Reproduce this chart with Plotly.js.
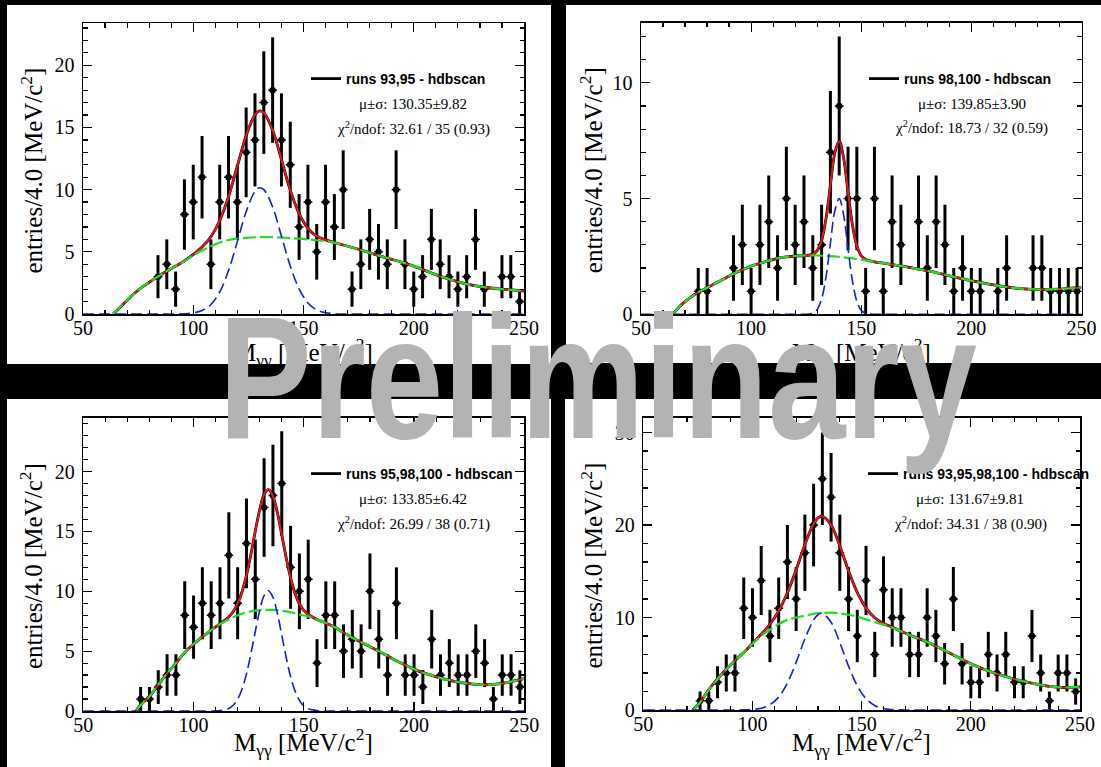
<!DOCTYPE html>
<html>
<head>
<meta charset="utf-8">
<script src="https://cdn.plot.ly/plotly-3.0.1.min.js"></script>
<style>
  html, body { margin: 0; padding: 0; background: #000; }
  #chart { width: 1101px; height: 767px; }
</style>
</head>
<body>
<div id="chart"></div>
<script>
// ---------------- data ----------------
// bin centres (bin width 4.0 MeV/c^2)
const binCenters = [52,56,60,64,68,72,76,80,84,88,92,96,100,104,108,112,116,120,124,128,132,136,140,144,148,152,156,160,164,168,172,176,180,184,188,192,196,200,204,208,212,216,220,224,228,232,236,240,244,248];

// entries per bin
const countsRuns93_95 = [0,0,0,0,0,0,0,0,3,4,2,8,9,11,4,9,11,9,13,14,17,18,14,12,7,9,5,9,7,10,2,4,6,5,4,10,4,2,3,6,4,3,2,3,6,2,0,3,3,1];
const countsRuns98_100 = [0,0,0,0,0,0,1,1,0,0,2,3,1,3,4,2,5,3,4,2,3,7,9,5,5,1,5,1,4,3,0,4,2,4,3,1,2,1,1,0,1,2,0,0,2,2,1,1,1,1];
const countsRuns95_98_100 = [0,0,0,0,0,0,1,1,2,3,3,8,7,9,8,9,13,9,14,11,17,18,19,12,10,11,4,8,8,5,6,5,10,6,3,9,3,3,2,6,3,4,3,3,5,4,1,3,3,2];
const countsRuns93_95_98_100 = [0,0,0,0,0,0,1,1,3,4,4,11,10,14,8,11,16,12,17,20,25,23,17,12,8,14,6,13,10,10,6,6,10,8,5,12,5,3,3,6,4,6,3,3,8,4,1,4,4,2];

// fitted curves, read at sample points: background (green) and signal (blue)
const fitX_93_95 = [50,63.7,68,72,76,80,84,88,92,96,100,104,108,112,116,120,124,128,130,132,136,140,144,148,152,156,160,164,168,176,184,192,200,208,216,224,232,240,250];
const bkg_93_95  = [null,0,0.75,1.45,2.05,2.55,3.0,3.45,3.85,4.25,4.7,5.1,5.45,5.75,5.95,6.05,6.12,6.17,6.18,6.19,6.18,6.15,6.1,6.05,6.0,5.93,5.85,5.72,5.55,5.15,4.7,4.3,3.85,3.3,2.8,2.4,2.15,2.0,1.85];
const sig_93_95  = [0,0,0,0,0,0,0,0,0,0.02,0.09,0.28,0.76,1.77,3.49,5.83,8.23,9.86,10.15,10.0,8.6,6.26,3.86,2.02,0.89,0.33,0.11,0.03,0,0,0,0,0,0,0,0,0,0,0];

const fitX_98_100 = [50,64.4,68,72,76,80,84,88,92,96,100,104,108,112,116,120,124,128,130,132,134,136,138,140,142,144,146,148,150,152,156,160,168,176,184,192,200,208,216,224,232,240,250];
const bkg_98_100  = [null,0,0.38,0.7,0.95,1.15,1.35,1.55,1.75,1.92,2.08,2.2,2.32,2.42,2.48,2.52,2.54,2.54,2.54,2.53,2.52,2.51,2.5,2.48,2.46,2.44,2.42,2.39,2.36,2.33,2.27,2.21,2.09,1.95,1.8,1.62,1.45,1.3,1.18,1.1,1.07,1.09,1.16];
const sig_98_100  = [0,0,0,0,0,0,0,0,0,0,0,0,0,0,0,0,0,0.05,0.21,0.66,1.62,3.07,4.47,5.0,4.29,2.84,1.44,0.56,0.17,0.04,0,0,0,0,0,0,0,0,0,0,0,0,0];

const fitX_95_98_100 = [50,73.9,76,80,84,88,92,96,100,104,108,112,116,118,120,122,124,126,128,130,132,134,136,138,140,142,144,146,148,150,152,156,160,164,168,172,176,180,184,188,192,196,200,204,208,212,216,220,224,228,232,236,240,244,250];
const bkg_95_98_100  = [null,0,0.5,1.2,2.2,3.15,4.0,4.9,5.6,6.2,6.75,7.25,7.65,7.83,8.0,8.13,8.25,8.32,8.38,8.42,8.45,8.45,8.44,8.42,8.38,8.32,8.25,8.16,8.07,7.98,7.9,7.62,7.35,7.0,6.55,6.12,5.75,5.38,5.0,4.6,4.2,3.85,3.5,3.2,2.98,2.75,2.58,2.42,2.3,2.23,2.2,2.22,2.3,2.45,2.7];
const sig_95_98_100  = [0,0,0,0,0,0,0,0,0,0,0,0.03,0.21,0.48,0.98,1.83,3.1,4.76,6.64,8.4,9.64,10.05,9.5,8.16,6.35,4.49,2.88,1.68,0.89,0.42,0.18,0.03,0,0,0,0,0,0,0,0,0,0,0,0,0,0,0,0,0,0,0,0,0,0,0];

const fitX_all = [50,72.6,76,80,84,88,92,96,100,104,108,112,116,120,124,128,130,132,136,140,144,148,152,156,160,164,168,172,180,190,200,210,220,230,240,250];
const bkg_all  = [null,0,0.8,2.2,3.35,4.4,5.35,6.2,7.15,8.0,8.7,9.3,9.75,10.0,10.2,10.4,10.47,10.5,10.52,10.45,10.3,10.1,9.8,9.5,9.2,8.9,8.5,8.1,7.35,6.2,5.0,4.05,3.35,2.8,2.45,2.5];
const sig_all  = [0,0,0,0,0,0,0,0.01,0.06,0.2,0.57,1.4,2.92,5.15,7.7,9.74,10.3,10.44,9.48,7.29,4.74,2.61,1.22,0.48,0.16,0.05,0.01,0,0,0,0,0,0,0,0,0];

// labels
const runLabels = ["runs 93,95 - hdbscan", "runs 98,100 - hdbscan", "runs 95,98,100 - hdbscan", "runs 93,95,98,100 - hdbscan"];
const muSigmaLabels = ["μ±σ: 130.35±9.82", "μ±σ: 139.85±3.90", "μ±σ: 133.85±6.42", "μ±σ: 131.67±9.81"];
const chi2Labels = ["χ<sup>2</sup>/ndof: 32.61 / 35 (0.93)", "χ<sup>2</sup>/ndof: 18.73 / 32 (0.59)", "χ<sup>2</sup>/ndof: 26.99 / 38 (0.71)", "χ<sup>2</sup>/ndof: 34.31 / 38 (0.90)"];
const yTitle = "entries/4.0 [MeV/c<sup>2</sup>]";
const xTitle = "M<sub>γγ</sub> [MeV/c<sup>2</sup>]";
const xTickVals = [50, 100, 150, 200, 250];
const watermarkText = "Preliminary";

// ---------------- layout helpers ----------------
const W = 1101, H = 767;
const px = v => v / W;
const py = v => 1 - v / H;

const panels = [
  { counts: countsRuns93_95, fx: fitX_93_95, bkg: bkg_93_95, sig: sig_93_95,
    frame: [83, 524, 23, 314], ymax: 23.4, dtick: 5, minor: 1,
    white: [7, 551, 5, 364], legendX: 306, legendY: 79, infoX: 413, muY: 104, chiY: 128,
    yTitleX: 32, xTitleY: 352 },
  { counts: countsRuns98_100, fx: fitX_98_100, bkg: bkg_98_100, sig: sig_98_100,
    frame: [641, 1081.5, 22.7, 314.3], ymax: 12.6, dtick: 5, minor: 1,
    white: [566, 1101, 5, 363], legendX: 864, legendY: 79, infoX: 971.5, muY: 104, chiY: 127.7,
    yTitleX: 591.7, xTitleY: 352 },
  { counts: countsRuns95_98_100, fx: fitX_95_98_100, bkg: bkg_95_98_100, sig: sig_95_98_100,
    frame: [83.3, 524.3, 417.7, 711], ymax: 24.5, dtick: 5, minor: 1,
    white: [7, 551, 399, 767], legendX: 306, legendY: 474, infoX: 413, muY: 498.7, chiY: 523.3,
    yTitleX: 31.7, xTitleY: 742 },
  { counts: countsRuns93_95_98_100, fx: fitX_all, bkg: bkg_all, sig: sig_all,
    frame: [643.3, 1080, 417.7, 710], ymax: 31.6, dtick: 10, minor: 2,
    white: [565, 1101, 399, 767], legendX: 863, legendY: 474, infoX: 970, muY: 499, chiY: 523.3,
    yTitleX: 591.7, xTitleY: 742 }
];

const serif = "'Liberation Serif', 'Times New Roman', Times, serif";
const sans = "'Liberation Sans', Arial, Helvetica, sans-serif";

const traces = [];
const layout = {
  width: W, height: H,
  margin: { l: 0, r: 0, t: 0, b: 0, pad: 0 },
  paper_bgcolor: "#000000",
  plot_bgcolor: "#ffffff",
  showlegend: true,
  shapes: [],
  annotations: []
};

panels.forEach((p, k) => {
  const n = k === 0 ? "" : String(k + 1);
  const xa = "x" + n, ya = "y" + n;
  const legendName = "legend" + n;

  // data points (empty bins not drawn), sqrt(N) error bars, bin-width x bars
  traces.push({
    type: "scatter", mode: "markers", xaxis: xa, yaxis: ya, showlegend: false,
    x: binCenters, y: p.counts.map(c => c > 0 ? c : null),
    marker: { color: "#000", size: 6.5, symbol: "circle" },
    error_y: { type: "sqrt", color: "#000", thickness: 3, width: 0 },
    error_x: { type: "constant", value: 2, color: "#000", thickness: 1.5, width: 0 },
    cliponaxis: false, hoverinfo: "skip"
  });

  const total = p.fx.map((x, i) => p.bkg[i] === null ? null : p.bkg[i] + p.sig[i]);

  // total fit (black, legend entry)
  traces.push({
    type: "scatter", mode: "lines", xaxis: xa, yaxis: ya,
    name: runLabels[k], legend: legendName, showlegend: true,
    x: p.fx, y: total, line: { color: "#000", width: 2.8, shape: "spline", smoothing: 1 },
    hoverinfo: "skip"
  });
  // total fit (red)
  traces.push({
    type: "scatter", mode: "lines", xaxis: xa, yaxis: ya, showlegend: false,
    x: p.fx, y: total, line: { color: "#e8141e", width: 2, shape: "spline", smoothing: 1 },
    hoverinfo: "skip"
  });
  // background (green dashed)
  traces.push({
    type: "scatter", mode: "lines", xaxis: xa, yaxis: ya, showlegend: false,
    x: p.fx, y: p.bkg, line: { color: "#22dd22", width: 2.2, dash: "13px,4px", shape: "spline", smoothing: 1 },
    hoverinfo: "skip"
  });
  // signal (blue dashed)
  traces.push({
    type: "scatter", mode: "lines", xaxis: xa, yaxis: ya, showlegend: false,
    x: p.fx, y: p.sig, line: { color: "#1020dd", width: 1.6, dash: "11px,5px", shape: "spline", smoothing: 1 },
    hoverinfo: "skip"
  });

  const [fl, fr, ft, fb] = p.frame;
  layout["xaxis" + n] = {
    domain: [px(fl), px(fr)], anchor: ya, range: [50, 250],
    tickmode: "array", tickvals: xTickVals, ticktext: xTickVals.map(String),
    ticks: "inside", ticklen: 9, tickwidth: 1.2, tickcolor: "#000",
    minor: { dtick: 10, tick0: 50, ticks: "inside", ticklen: 4.5, tickwidth: 1.2, tickcolor: "#000" },
    showline: true, linecolor: "#000", linewidth: 1.5, mirror: "allticks",
    showgrid: false, zeroline: false, automargin: false,
    tickfont: { family: serif, size: 20, color: "#000" }, ticklabelstandoff: -5
  };
  layout["yaxis" + n] = {
    domain: [py(fb), py(ft)], anchor: xa, range: [0, p.ymax],
    tickmode: "linear", tick0: 0, dtick: p.dtick,
    ticks: "inside", ticklen: 9, tickwidth: 1.2, tickcolor: "#000",
    minor: { dtick: p.minor, tick0: 0, ticks: "inside", ticklen: 4.5, tickwidth: 1.2, tickcolor: "#000" },
    showline: true, linecolor: "#000", linewidth: 1.5, mirror: "allticks",
    showgrid: false, zeroline: false, automargin: false,
    tickfont: { family: serif, size: 20, color: "#000" }, ticklabelstandoff: 3
  };

  // white panel background
  const [wl, wr, wt, wb] = p.white;
  layout.shapes.push({
    type: "rect", xref: "paper", yref: "paper", layer: "below",
    x0: px(wl), x1: px(wr), y0: py(wb), y1: py(wt),
    fillcolor: "#ffffff", line: { width: 0 }
  });

  // legend
  layout[legendName] = {
    x: px(p.legendX), y: py(p.legendY), xanchor: "left", yanchor: "middle",
    bgcolor: "rgba(0,0,0,0)", borderwidth: 0, itemwidth: 30,
    font: { family: sans, size: 14, color: "#000", weight: "bold" }
  };

  // fit information
  layout.annotations.push({
    xref: "paper", yref: "paper", x: px(p.infoX), y: py(p.muY), xanchor: "center", yanchor: "middle",
    text: muSigmaLabels[k], showarrow: false, font: { family: serif, size: 15, color: "#000" }
  });
  layout.annotations.push({
    xref: "paper", yref: "paper", x: px(p.infoX), y: py(p.chiY), xanchor: "center", yanchor: "middle",
    text: chi2Labels[k], showarrow: false, font: { family: serif, size: 15, color: "#000" }
  });
  // axis titles
  layout.annotations.push({
    xref: "paper", yref: "paper", x: px(p.yTitleX), y: py((ft + fb) / 2 + 2), xanchor: "center", yanchor: "middle",
    text: yTitle, textangle: -90, showarrow: false, font: { family: serif, size: 25, color: "#000" }
  });
  layout.annotations.push({
    xref: "paper", yref: "paper", x: px((fl + fr) / 2), y: py(p.xTitleY), xanchor: "center", yanchor: "middle",
    text: xTitle, showarrow: false, font: { family: serif, size: 25, color: "#000" }
  });
});

// watermark (condensed afterwards to match the narrow bold face of the original)
layout.annotations.push({
  xref: "paper", yref: "paper", x: px(598), y: py(377), xanchor: "center", yanchor: "middle",
  text: watermarkText, showarrow: false,
  font: { family: sans, size: 174, color: "#b3b3b3", weight: "bold" }
});
const watermarkIndex = layout.annotations.length - 1;

Plotly.newPlot("chart", traces, layout, { staticPlot: true, displayModeBar: false }).then(gd => {
  const g = gd.querySelector('g.annotation[data-index="' + watermarkIndex + '"]');
  if (g) {
    const t = g.querySelector("text.annotation-text");
    if (t) {
      t.style.transformBox = "fill-box";
      t.style.transformOrigin = "center";
      t.style.transform = "scaleX(0.8)";
    }
  }
});
</script>
</body>
</html>
